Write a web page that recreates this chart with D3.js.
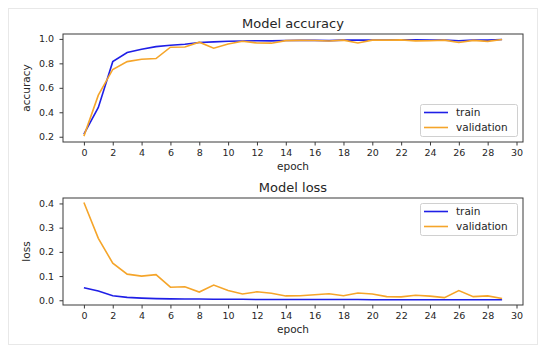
<!DOCTYPE html>
<html>
<head>
<meta charset="utf-8">
<script src="https://cdn.jsdelivr.net/npm/d3@7"></script>
<style>
  body { margin: 0; background: #fff; }
  text { font-family: "DejaVu Sans", sans-serif; fill: #262626; }
  .axis path, .axis line { stroke: #3a3a3a; }
  .axis text { font-size: 9.5px; fill: #262626; }
</style>
</head>
<body>
<div id="chart"></div>
<script>
  // epochs 0..29
  const epochs = d3.range(30);

  // accuracy
  const accTrain = [0.221, 0.44, 0.814, 0.888, 0.915, 0.937, 0.948, 0.956, 0.97, 0.976,
                    0.981, 0.983, 0.985, 0.984, 0.987, 0.988, 0.988, 0.986, 0.99, 0.99,
                    0.99, 0.99, 0.992, 0.993, 0.99, 0.99, 0.985, 0.99, 0.99, 0.995];
  const accVal = [0.205, 0.54, 0.75, 0.814, 0.833, 0.839, 0.932, 0.934, 0.973, 0.924,
                  0.959, 0.981, 0.966, 0.965, 0.986, 0.988, 0.987, 0.983, 0.99, 0.967,
                  0.99, 0.99, 0.992, 0.984, 0.985, 0.99, 0.97, 0.988, 0.98, 0.995];

  // loss
  const lossTrain = [0.052, 0.038, 0.019, 0.012, 0.009, 0.007, 0.006, 0.005, 0.005, 0.004,
                     0.004, 0.004, 0.003, 0.003, 0.003, 0.003, 0.003, 0.003, 0.003, 0.003,
                     0.002, 0.002, 0.002, 0.002, 0.002, 0.002, 0.002, 0.002, 0.002, 0.002];
  const lossVal = [0.404, 0.256, 0.153, 0.108, 0.10, 0.106, 0.054, 0.056, 0.034, 0.063,
                   0.040, 0.026, 0.035, 0.029, 0.018, 0.019, 0.023, 0.027, 0.019, 0.030,
                   0.026, 0.015, 0.014, 0.021, 0.017, 0.011, 0.040, 0.015, 0.018, 0.007];

  const xTicks = d3.range(0, 31, 2);
  const accTicks = [0.2, 0.4, 0.6, 0.8, 1.0];
  const lossTicks = [0.0, 0.1, 0.2, 0.3, 0.4];
  const seriesNames = ["train", "validation"];
  const colors = ["#1f1fe6", "#f5a52a"];

  let width = 550, height = 352;

  let svg = d3.select("#chart").append("svg")
    .attr("width", width).attr("height", height);

  //faint frame around the whole picture
  svg.append("rect").attr("x", 8.5).attr("y", 8.5).attr("width", 529).attr("height", 336)
    .attr("fill", "none").attr("stroke", "#e8e8e8");

  function panel(opts) {
    let left = 63, right = 523;
    let x = d3.scaleLinear().domain([-1.45, 30.45]).range([left, right]);
    let y = d3.scaleLinear().domain(opts.ydom).range([opts.bottom, opts.top]);

    let g = svg.append("g");

    let line = d3.line().x((d, i) => x(epochs[i])).y(d => y(d));
    opts.series.forEach(function(s, k) {
      g.append("path").datum(s)
        .attr("fill", "none")
        .attr("stroke", colors[k])
        .attr("stroke-width", 1.6)
        .attr("d", line);
    });

    g.append("g").attr("class", "axis")
      .attr("transform", "translate(0," + opts.bottom + ")")
      .call(d3.axisBottom(x).tickValues(xTicks).tickSize(3.5).tickPadding(4).tickFormat(d3.format("d")))
      .call(a => a.select(".domain").remove());
    g.append("g").attr("class", "axis")
      .attr("transform", "translate(" + left + ",0)")
      .call(d3.axisLeft(y).tickValues(opts.yticks).tickSize(3.5).tickPadding(5.5).tickFormat(d3.format(".1f")))
      .call(a => a.select(".domain").remove());

    // spines
    g.append("rect").attr("x", left).attr("y", opts.top)
      .attr("width", right - left).attr("height", opts.bottom - opts.top)
      .attr("fill", "none").attr("stroke", "#3a3a3a").attr("stroke-width", 1);

    g.append("text").attr("x", (left + right) / 2).attr("y", opts.top - 6)
      .attr("text-anchor", "middle").style("font-size", "13px").text(opts.title);
    g.append("text").attr("x", (left + right) / 2).attr("y", opts.bottom + 28)
      .attr("text-anchor", "middle").style("font-size", "10.5px").text("epoch");
    g.append("text")
      .attr("transform", "translate(30," + (opts.top + opts.bottom) / 2 + ") rotate(-90)")
      .attr("text-anchor", "middle").style("font-size", "10.5px").text(opts.ylabel);

    // legend
    let lg = g.append("g").attr("transform", "translate(420," + opts.legendTop + ")");
    lg.append("rect").attr("x", 0.5).attr("y", 0.5).attr("width", 97).attr("height", 32)
      .attr("rx", 2).attr("fill", "#fff").attr("fill-opacity", 0.8)
      .attr("stroke", "#d0d0d0");
    seriesNames.forEach(function(n, k) {
      let yy = 8.5 + k * 15;
      lg.append("line").attr("x1", 4).attr("x2", 28).attr("y1", yy).attr("y2", yy)
        .attr("stroke", colors[k]).attr("stroke-width", 1.6);
      lg.append("text").attr("x", 36).attr("y", yy).attr("dy", "0.35em")
        .style("font-size", "10.5px").text(n);
    });
  }

  panel({
    top: 34, bottom: 142, ydom: [0.157, 1.04], yticks: accTicks,
    series: [accTrain, accVal], title: "Model accuracy", ylabel: "accuracy", legendTop: 104
  });
  panel({
    top: 198, bottom: 305, ydom: [-0.0195, 0.4225], yticks: lossTicks,
    series: [lossTrain, lossVal], title: "Model loss", ylabel: "loss", legendTop: 203
  });
</script>
</body>
</html>
